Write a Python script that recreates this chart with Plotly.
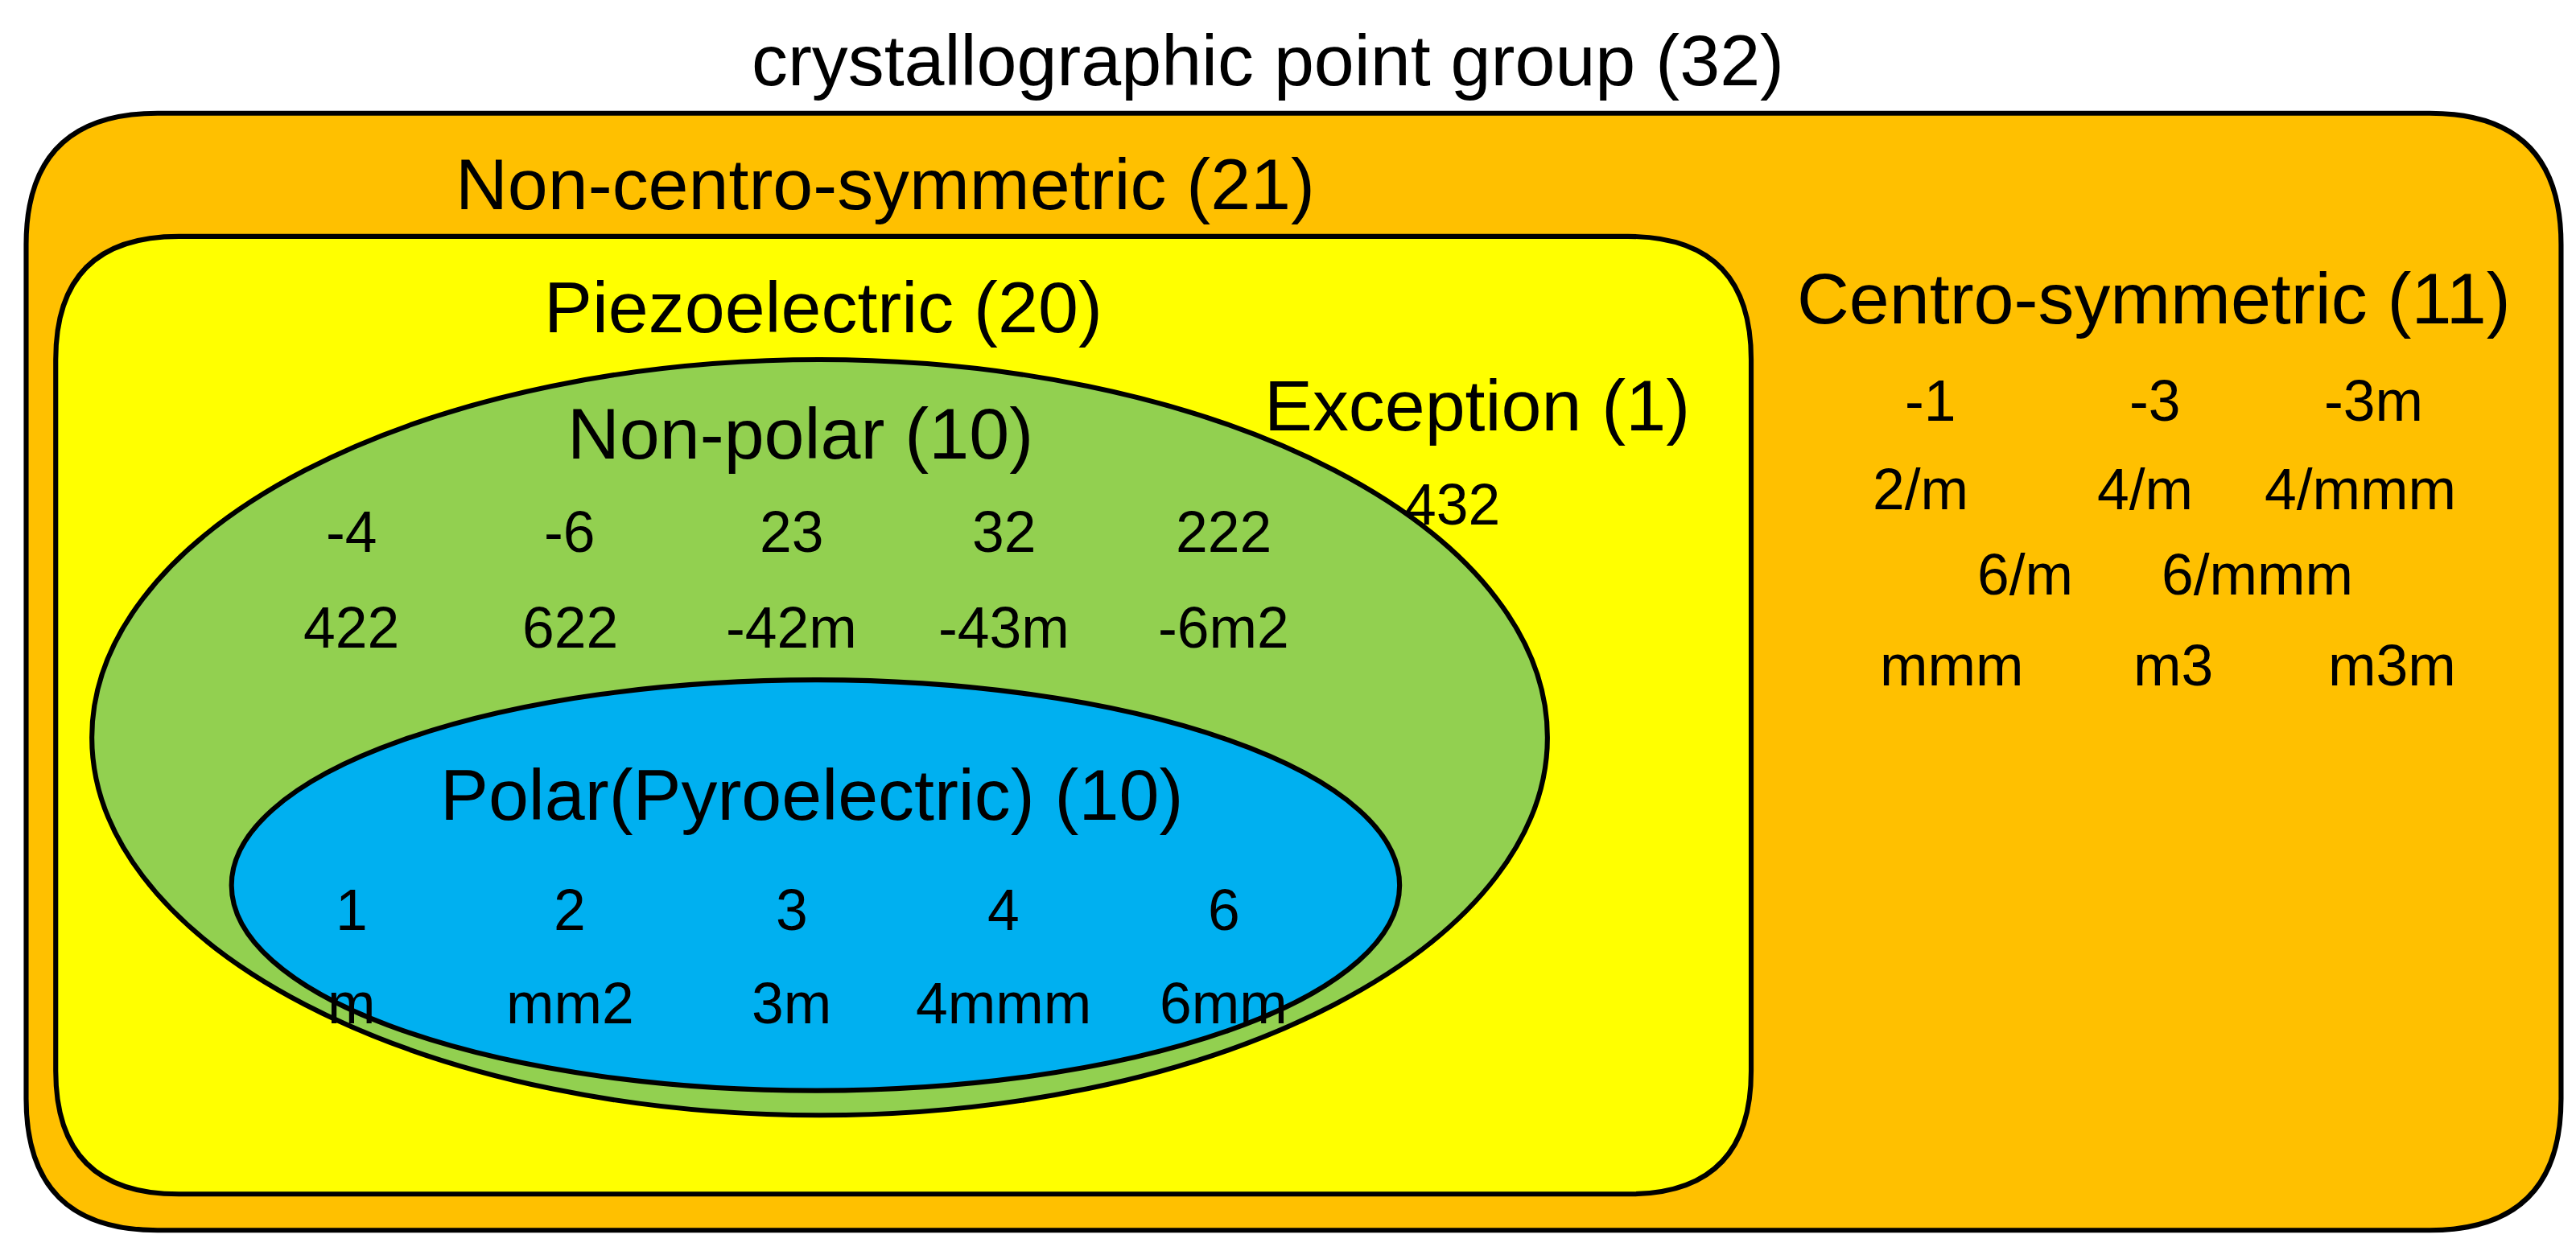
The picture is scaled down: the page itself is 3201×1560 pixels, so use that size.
import plotly.graph_objects as go

# ---- data ----
title = "crystallographic point group (32)"
noncentro_title = "Non-centro-symmetric (21)"
piezo_title = "Piezoelectric (20)"
exception_title = "Exception (1)"
exception_groups = ["432"]
nonpolar_title = "Non-polar (10)"
nonpolar_groups = [["-4", "-6", "23", "32", "222"], ["422", "622", "-42m", "-43m", "-6m2"]]
polar_title = "Polar(Pyroelectric) (10)"
polar_groups = [["1", "2", "3", "4", "6"], ["m", "mm2", "3m", "4mmm", "6mm"]]
centro_title = "Centro-symmetric (11)"
centro_groups = [["-1", "-3", "-3m"], ["2/m", "4/m", "4/mmm"], ["6/m", "6/mmm"], ["mmm", "m3", "m3m"]]

# ---- layout (display coords, scaled) ----
W, H = 1568, 764
S = 3201 / W

def rrect(x0, y0, x1, y1, r):
    return (f"M {x0+r},{y0} L {x1-r},{y0} Q {x1},{y0} {x1},{y0+r} "
            f"L {x1},{y1-r} Q {x1},{y1} {x1-r},{y1} L {x0+r},{y1} "
            f"Q {x0},{y1} {x0},{y1-r} L {x0},{y0+r} Q {x0},{y0} {x0+r},{y0} Z")

lw = 3 * S
shapes = [
    dict(type="path", path=rrect(12, 65, 1555, 745, 80), fillcolor="#FFC000", line=dict(color="black", width=lw), layer="below"),
    dict(type="path", path=rrect(30, 140, 1062, 723, 75), fillcolor="#FFFF00", line=dict(color="black", width=lw), layer="below"),
    dict(type="circle", x0=52, y0=215, x1=938, y1=675, fillcolor="#92D050", line=dict(color="black", width=lw), layer="below"),
    dict(type="circle", x0=137, y0=410, x1=848, y1=660, fillcolor="#00B0F0", line=dict(color="black", width=lw), layer="below"),
]

ann = []
def t(x, y, s, size):
    ann.append(dict(x=x, y=y, text=s, showarrow=False, xanchor="center", yanchor="middle",
                    font=dict(size=size * S, color="black", family="Liberation Sans, Arial")))

HS, GS = 44, 35
t(768, 33, title, HS)
t(535, 108, noncentro_title, HS)
t(497, 183, piezo_title, HS)
t(895, 243, exception_title, HS)
t(880, 303, exception_groups[0], GS)
t(483, 260, nonpolar_title, HS)
t(490, 480, polar_title, HS)
t(1307, 178, centro_title, HS)

cols5 = [210, 343, 478, 607, 741]
for row, y in zip(nonpolar_groups, [320, 378]):
    for s, x in zip(row, cols5):
        t(x, y, s, GS)
for row, y in zip(polar_groups, [550, 607]):
    for s, x in zip(row, cols5):
        t(x, y, s, GS)
centro_x = [[1171, 1308, 1441], [1165, 1302, 1433], [1229, 1370], [1184, 1319, 1452]]
for row, xs, y in zip(centro_groups, centro_x, [240, 294, 346, 401]):
    for s, x in zip(row, xs):
        t(x, y, s, GS)

fig = go.Figure()
fig.update_layout(width=3201, height=1560, margin=dict(l=0, r=0, t=0, b=0),
                  paper_bgcolor="white", plot_bgcolor="white", shapes=shapes, annotations=ann,
                  xaxis=dict(range=[0, W], visible=False, fixedrange=True),
                  yaxis=dict(range=[H, 0], visible=False, fixedrange=True), showlegend=False)
fig.write_html("out.html")
